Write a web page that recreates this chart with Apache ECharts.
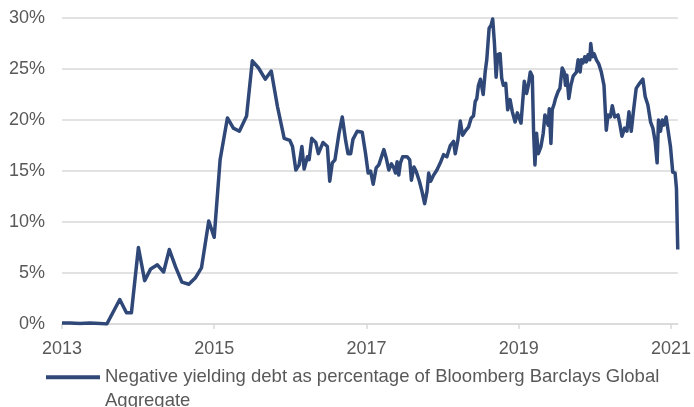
<!DOCTYPE html>
<html>
<head>
<meta charset="utf-8">
<script src="https://cdn.jsdelivr.net/npm/echarts@6/dist/echarts.min.js"></script>
<style>
html,body{margin:0;padding:0;background:#fff;}
#chart{width:694px;height:407px;}
</style>
</head>
<body>
<div id="chart"></div>
<script>
var seriesName = 'Negative yielding debt as percentage of Bloomberg Barclays Global\nAggregate';
var xTickLabels = [2013, 2015, 2017, 2019, 2021];
var yTickValues = [0, 5, 10, 15, 20, 25, 30];

var dates = [
2013.000,2013.105,2013.236,2013.366,2013.497,2013.589,2013.759,2013.847,2013.912,2014.004,
2014.086,2014.165,2014.253,2014.335,2014.410,2014.492,2014.575,2014.666,2014.750,2014.832,
2014.928,2014.999,2015.077,2015.173,2015.251,2015.330,2015.425,2015.500,2015.582,2015.670,
2015.749,2015.831,2015.919,2015.993,2016.028,2016.072,2016.115,2016.151,2016.181,2016.224,
2016.246,2016.281,2016.334,2016.368,2016.429,2016.486,2016.517,2016.551,2016.586,2016.639,
2016.682,2016.726,2016.757,2016.792,2016.822,2016.878,2016.944,2016.988,2017.022,2017.054,
2017.088,2017.127,2017.162,2017.188,2017.228,2017.258,2017.293,2017.328,2017.359,2017.381,
2017.402,2017.424,2017.446,2017.476,2017.533,2017.568,2017.590,2017.624,2017.651,2017.695,
2017.729,2017.764,2017.795,2017.817,2017.843,2017.882,2017.925,2017.970,2018.013,2018.056,
2018.101,2018.144,2018.166,2018.200,2018.232,2018.262,2018.297,2018.340,2018.376,2018.406,
2018.428,2018.449,2018.471,2018.497,2018.533,2018.559,2018.580,2018.611,2018.637,2018.658,
2018.681,2018.703,2018.724,2018.755,2018.776,2018.798,2018.829,2018.855,2018.886,2018.916,
2018.952,2018.982,2019.008,2019.030,2019.047,2019.073,2019.103,2019.126,2019.152,2019.178,
2019.195,2019.213,2019.234,2019.257,2019.292,2019.322,2019.344,2019.365,2019.387,2019.401,
2019.423,2019.440,2019.466,2019.483,2019.518,2019.541,2019.571,2019.597,2019.614,2019.632,
2019.658,2019.685,2019.715,2019.758,2019.780,2019.806,2019.823,2019.846,2019.868,2019.889,
2019.911,2019.933,2019.946,2019.967,2019.990,2020.020,2020.051,2020.085,2020.120,2020.150,
2020.173,2020.203,2020.229,2020.260,2020.304,2020.326,2020.356,2020.391,2020.421,2020.448,
2020.478,2020.509,2020.543,2020.588,2020.631,2020.661,2020.696,2020.732,2020.762,2020.792,
2020.818,2020.836,2020.862,2020.886,2020.906,2020.936,2020.958,2020.993,2021.023,2021.054,
2021.072,2021.089
];

var values = [
0.1,0.1,0.05,0.1,0.05,0.0,2.4,1.1,1.1,7.5,
4.25,5.4,5.8,5.1,7.3,5.6,4.1,3.9,4.5,5.5,
10.1,8.5,16.1,20.2,19.2,18.9,20.4,25.8,25.1,24.0,
24.8,21.3,18.2,18.0,17.4,15.1,15.6,17.4,15.2,16.4,
16.1,18.2,17.8,16.7,17.8,17.4,14.0,15.8,16.1,18.7,
20.3,18.0,16.7,16.7,18.1,18.9,18.8,16.7,14.8,15.0,
13.7,15.3,15.6,15.6,17.1,16.3,15.1,15.7,15.3,14.8,
15.9,14.6,15.8,16.4,16.4,16.1,14.1,15.4,15.0,14.0,
13.0,11.8,13.0,14.8,14.0,14.6,15.1,15.8,16.6,16.4,
17.5,17.9,16.7,18.0,19.9,18.5,18.9,19.3,20.2,20.4,
21.8,22.1,23.4,24.0,22.5,24.7,25.9,29.0,29.3,29.9,
27.5,24.2,26.4,26.5,24.1,23.4,23.6,21.0,22.0,20.8,
19.8,20.7,20.7,19.7,19.8,23.8,22.6,23.4,24.7,24.3,
18.9,15.6,18.7,16.7,17.4,18.7,20.5,20.5,19.5,21.1,
17.7,21.0,21.6,22.1,22.8,23.1,25.1,24.7,23.4,24.4,
22.1,23.4,24.3,24.7,25.9,24.7,25.9,25.6,26.2,25.7,
26.4,25.9,27.5,26.2,26.5,25.9,25.5,24.7,23.4,19.0,
20.5,20.3,21.4,20.3,20.5,19.7,18.4,19.2,18.9,20.8,
18.9,21.0,23.1,23.6,24.0,22.3,21.5,19.8,19.2,17.9,
15.8,20.0,18.9,20.0,19.5,20.3,20.3,17.4,14.9,14.8,
13.3,7.3
];

var seriesData = dates.map(function (d, i) { return [d, values[i]]; });

var chart = echarts.init(document.getElementById('chart'), null, {renderer: 'canvas'});
var font = 'Liberation Sans, Arial, sans-serif';
chart.setOption({
  animation: false,
  backgroundColor: '#ffffff',
  textStyle: {fontFamily: font},
  grid: {left: 62, right: 14, top: 18, bottom: 83, containLabel: false},
  xAxis: {
    type: 'value',
    min: 2013,
    max: 2021.09,
    axisLine: {show: true, onZero: false, lineStyle: {color: '#d9d9d9', width: 1.5}},
    axisTick: {show: true, length: 5, lineStyle: {color: '#d9d9d9', width: 1.5}, customValues: xTickLabels},
    axisLabel: {color: '#595959', fontSize: 18, fontFamily: font, margin: 16, customValues: xTickLabels,
      formatter: function (v) { return String(Math.round(v)); }},
    splitLine: {show: false}
  },
  yAxis: {
    type: 'value',
    min: 0,
    max: 30,
    interval: 5,
    axisLine: {show: false},
    axisTick: {show: false},
    axisLabel: {color: '#595959', fontSize: 18, fontFamily: font, margin: 17, formatter: '{value}%'},
    splitLine: {show: true, lineStyle: {color: '#d9d9d9', width: 1.5}}
  },
  legend: {
    show: true,
    left: 46,
    top: 342,
    icon: 'rect',
    itemWidth: 54,
    itemHeight: 4,
    itemGap: 0,
    padding: 0,
    formatter: function (name) { return '\n' + name; },
    textStyle: {color: '#595959', fontSize: 18.5, fontFamily: font, lineHeight: 23.5},
    data: [seriesName]
  },
  series: [{
    name: seriesName,
    type: 'line',
    data: seriesData,
    showSymbol: false,
    symbol: 'none',
    lineStyle: {color: '#2F4878', width: 3.5, join: 'round'},
    itemStyle: {color: '#2F4878'}
  }]
});
</script>
</body>
</html>
